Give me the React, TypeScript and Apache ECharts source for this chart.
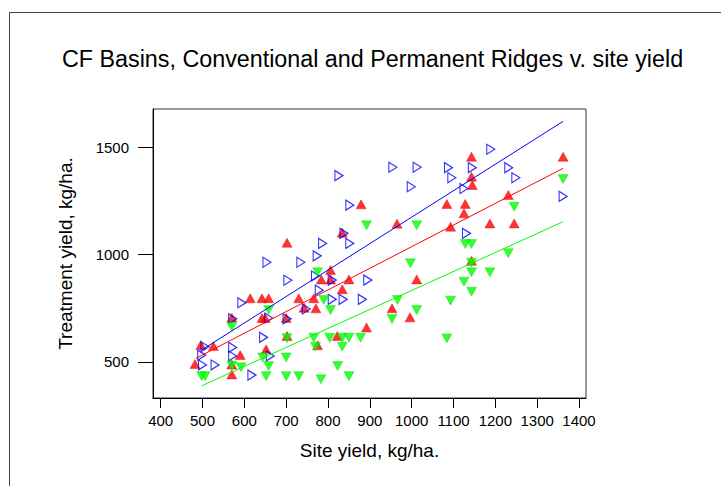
import React, { useEffect, useRef } from "react";
import * as echarts from "echarts";

// series: [site yield, treatment yield]
const redPoints: number[][] = [
  [702, 1055], [614, 796], [642, 796], [658, 796], [730, 796], [570, 705], [642, 704],
  [650, 704], [700, 704], [702, 620], [496, 578], [526, 573], [590, 531], [652, 558],
  [482, 489], [570, 487], [570, 441], [879, 1234], [965, 1144], [834, 1102], [784, 884],
  [806, 928], [806, 884], [850, 884], [1012, 884], [834, 838], [766, 796], [743, 752],
  [771, 749], [953, 749], [996, 707], [892, 660], [822, 620], [775, 577], [1143, 1456],
  [1362, 1456], [1143, 1363], [1145, 1324], [1231, 1278], [1084, 1236], [1128, 1236],
  [1125, 1192], [1093, 1130], [1187, 1145], [1245, 1145], [1143, 971],
];

const bluePoints: number[][] = [
  [654, 964], [735, 964], [787, 1052], [852, 1052], [704, 880], [594, 775], [572, 700],
  [658, 704], [702, 700], [646, 614], [506, 570], [572, 567], [572, 527], [662, 527],
  [498, 531], [500, 485], [530, 485], [618, 438], [826, 1368], [955, 1407], [1013, 1407],
  [999, 1316], [852, 1230], [838, 1099], [774, 994], [770, 900], [810, 881], [895, 881],
  [779, 834], [810, 791], [836, 791], [882, 791], [748, 746], [1189, 1491], [1088, 1405],
  [1145, 1405], [1232, 1405], [1096, 1358], [1249, 1358], [1125, 1308], [1362, 1271],
  [1131, 1099],
];

const greenPoints: number[][] = [
  [658, 741], [570, 663], [702, 610], [644, 520], [700, 520], [570, 482], [592, 474],
  [658, 480], [498, 433], [506, 433], [652, 433], [700, 433], [730, 433], [892, 1136],
  [1012, 1136], [997, 959], [775, 917], [790, 788], [966, 788], [806, 741], [1012, 741],
  [953, 699], [766, 612], [804, 612], [834, 612], [850, 612], [878, 612], [770, 570],
  [834, 570], [823, 480], [783, 418], [850, 433], [1362, 1352], [1245, 1223], [1128, 1049],
  [1143, 1049], [1231, 1006], [1143, 962], [1143, 917], [1187, 917], [1125, 873],
  [1143, 827], [1093, 785], [1084, 609],
];

// fitted lines
const redFit: number[][] = [[484, 516], [1362, 1402]];
const blueFit: number[][] = [[498, 555], [1362, 1621]];
const greenFit: number[][] = [[498, 388], [1362, 1153]];

const xTicks = [400, 500, 600, 700, 800, 900, 1000, 1100, 1200, 1300, 1400];
const yTicks = [500, 1000, 1500];

const titleText = "CF Basins, Conventional and Permanent Ridges v. site yield";
const xTitle = "Site yield, kg/ha.";
const yTitle = "Treatment yield, kg/ha.";

const RED = "#ff0000";
const BLUE = "#0000ff";
const GREEN = "#00ff00";
const FONT = "'Liberation Sans', Arial, sans-serif";

export default function App() {
  const ref = useRef<HTMLDivElement>(null);
  useEffect(() => {
    if (!ref.current) return;
    const chart = echarts.init(ref.current, undefined, { renderer: "svg" });
    const axisCommon = {
      axisLine: { show: true, onZero: false, lineStyle: { color: "#000", width: 1 } },
      splitLine: { show: false },
    };
    const plain = (v: number) => String(v);
    chart.setOption({
      animation: false,
      backgroundColor: "#fff",
      title: {
        text: titleText,
        left: 57,
        top: 42,
        textStyle: { fontFamily: FONT, fontSize: 23.3, fontWeight: "normal", color: "#000" },
      },
      graphic: [
        { type: "line", shape: { x1: 9.5, y1: 12.5, x2: 721, y2: 12.5 }, style: { stroke: "#444", lineWidth: 1 } },
        { type: "line", shape: { x1: 9.5, y1: 12.5, x2: 9.5, y2: 486 }, style: { stroke: "#444", lineWidth: 1 } },
      ],
      grid: {
        left: 153,
        top: 109,
        right: 135,
        bottom: 88,
        show: true,
        borderColor: "#333",
        borderWidth: 1,
        backgroundColor: "transparent",
      },
      xAxis: {
        type: "value",
        min: 381.6,
        max: 1416.7,
        ...axisCommon,
        axisTick: { show: true, customValues: xTicks, length: 10, lineStyle: { color: "#000" } },
        axisLabel: {
          customValues: xTicks,
          formatter: plain,
          margin: 15,
          fontFamily: FONT,
          fontSize: 15,
          color: "#000",
        },
        name: xTitle,
        nameLocation: "middle",
        nameGap: 43,
        nameTextStyle: { fontFamily: FONT, fontSize: 19, color: "#000" },
      },
      yAxis: {
        type: "value",
        min: 331,
        max: 1678.6,
        ...axisCommon,
        axisTick: { show: true, customValues: yTicks, length: 15, lineStyle: { color: "#000" } },
        axisLabel: {
          customValues: yTicks,
          formatter: plain,
          margin: 24,
          fontFamily: FONT,
          fontSize: 15,
          color: "#000",
        },
        name: yTitle,
        nameLocation: "middle",
        nameGap: 78,
        nameTextStyle: { fontFamily: FONT, fontSize: 19, color: "#000" },
      },
      series: [
        {
          type: "scatter",
          data: redPoints,
          symbol: "triangle",
          symbolSize: [10, 9],
          itemStyle: { color: RED, borderColor: "#dd0000", borderWidth: 0.5 },
          z: 2,
        },
        {
          type: "scatter",
          data: bluePoints,
          symbol: "triangle",
          symbolSize: [10, 8],
          symbolRotate: -90,
          itemStyle: { color: "rgba(255,255,255,0)", borderColor: BLUE, borderWidth: 1.2 },
          z: 3,
        },
        {
          type: "scatter",
          data: greenPoints,
          symbol: "triangle",
          symbolSize: [10, 9],
          symbolRotate: 180,
          itemStyle: { color: GREEN, borderColor: "#00dd00", borderWidth: 0.5 },
          z: 4,
        },
        { type: "line", data: blueFit, symbol: "none", lineStyle: { color: BLUE, width: 1 }, z: 5 },
        { type: "line", data: redFit, symbol: "none", lineStyle: { color: RED, width: 1 }, z: 5 },
        { type: "line", data: greenFit, symbol: "none", lineStyle: { color: GREEN, width: 1 }, z: 5 },
      ],
    });
    return () => chart.dispose();
  }, []);
  return (
    <div
      ref={ref}
      style={{ position: "absolute", left: 0, top: 0, width: 721, height: 486 }}
    />
  );
}
